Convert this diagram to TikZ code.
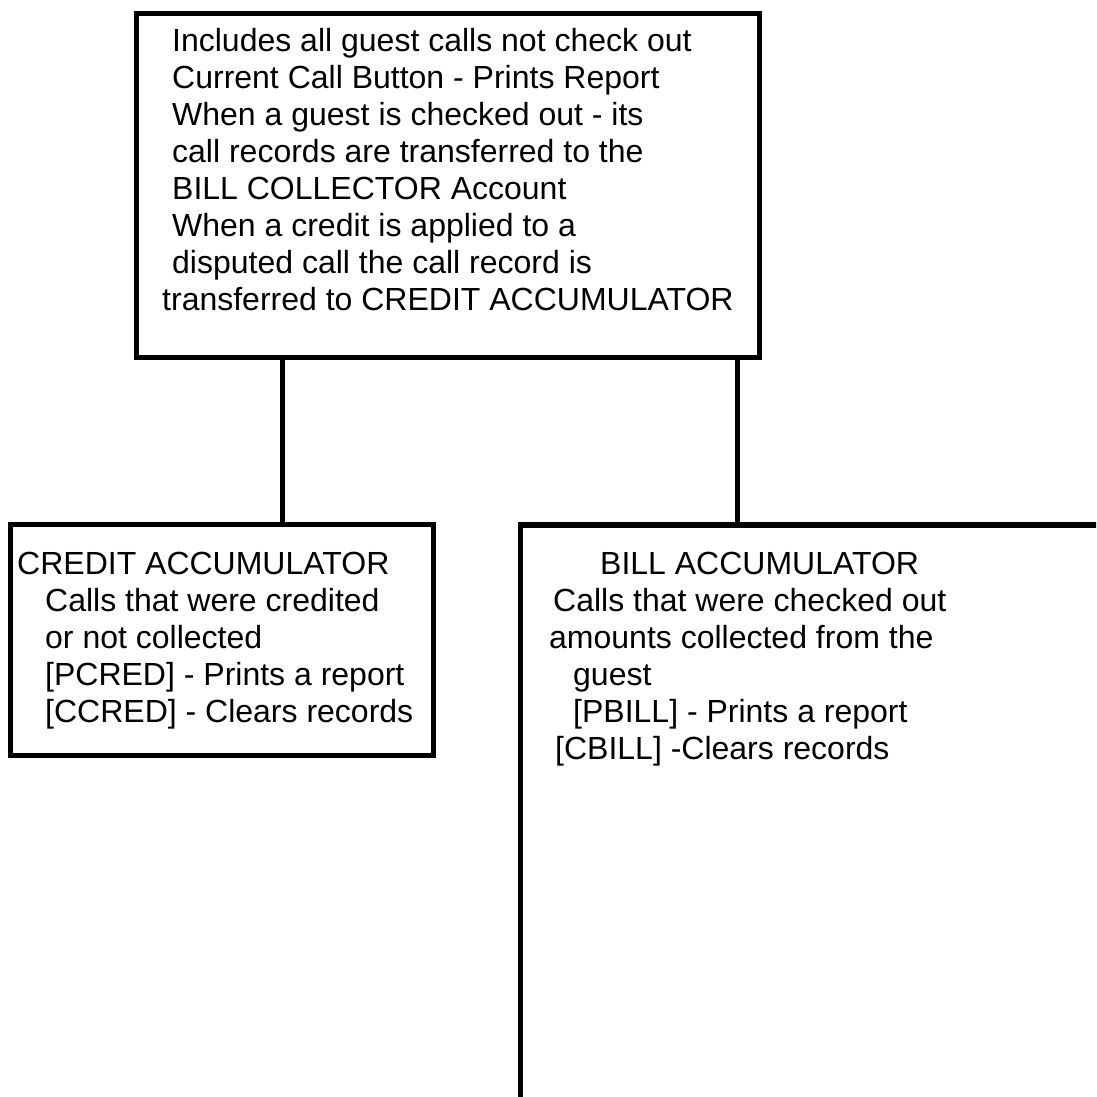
\documentclass[tikz,border=0pt]{standalone}
\usepackage{fontspec}
\setmainfont{Liberation Sans}
\usetikzlibrary{positioning}

\begin{document}
\begin{tikzpicture}[x=1pt,y=-1pt,
    box/.style={draw,line width=5.5pt,inner sep=0pt,outer sep=0pt},
    txt/.style={anchor=north west,align=left,inner sep=0pt,
      font=\fontsize{32}{37}\selectfont},
    link/.style={line width=5pt}]
  \useasboundingbox (0,0) rectangle (1096,1097);
  \clip (0,0) rectangle (1096,1097);
  % boxes
  \node[box,minimum width=623pt,minimum height=344pt] (current) at (448,185.5) {};
  \node[box,minimum width=423pt,minimum height=231pt] (credit) at (222,640) {};
  \node[box,minimum width=680pt,minimum height=675pt] (bill) at (860.5,862.5) {};
  % texts
  \node[txt] (currenttxt) at (162,28) {\hspace*{10pt}Includes all guest calls not check out\\
    \hspace*{10pt}Current Call Button - Prints Report\\
    \hspace*{10pt}When a guest is checked out - its\\
    \hspace*{10pt}call records are transferred to the\\
    \hspace*{10pt}BILL COLLECTOR Account\\
    \hspace*{10pt}When a credit is applied to a\\
    \hspace*{10pt}disputed call the call record is\\
    transferred to CREDIT ACCUMULATOR};
  \node[txt] (credittxt) at (17,551.5) {CREDIT ACCUMULATOR\\
    \hspace*{28pt}Calls that were credited\\
    \hspace*{28pt}or not collected\\
    \hspace*{28pt}[PCRED] - Prints a report\\
    \hspace*{28pt}[CCRED] - Clears records};
  \node[txt] (billtxt) at (549,551.5) {\hspace*{51pt}BILL ACCUMULATOR\\
    \hspace*{4pt}Calls that were checked out\\
    amounts collected from the\\
    \hspace*{24pt}guest\\
    \hspace*{24pt}[PBILL] - Prints a report\\
    \hspace*{6pt}[CBILL] -Clears records};
  % connectors
  \coordinate (lt) at (282,0);
  \coordinate (rt) at (737,0);
  \draw[link] (current.south -| lt) -- (credit.north -| lt);
  \draw[link] (current.south -| rt) -- (bill.north -| rt);
\end{tikzpicture}
\end{document}
